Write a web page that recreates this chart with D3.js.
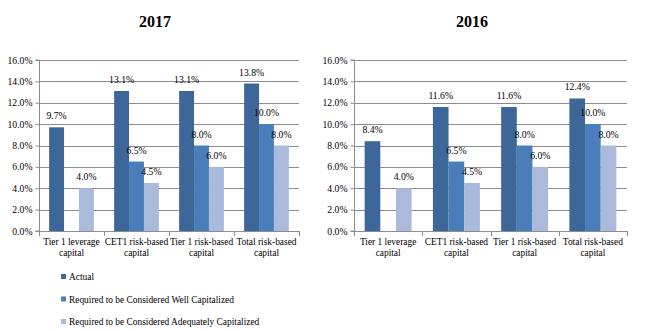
<!DOCTYPE html>
<html>
<head>
<meta charset="utf-8">
<script src="https://cdn.jsdelivr.net/npm/d3@7"></script>
<style>
  body { margin: 0; background: #fff; }
  svg text { font-family: "Liberation Serif", "Times New Roman", serif; fill: #000; }
</style>
</head>
<body>
<script>
// chart data
var categories = ["Tier 1 leverage capital", "CET1 risk-based capital", "Tier 1 risk-based capital", "Total risk-based capital"];
var catLines = [["Tier 1 leverage", "capital"], ["CET1 risk-based", "capital"], ["Tier 1 risk-based", "capital"], ["Total risk-based", "capital"]];
var seriesNames = ["Actual", "Required to be Considered Well Capitalized", "Required to be Considered Adequately Capitalized"];
var colors = ["#3D6699", "#4A7EBB", "#A9BADA"];
var yTicks = [0, 2, 4, 6, 8, 10, 12, 14, 16];

var actual2017 = [9.7, 13.1, 13.1, 13.8];
var well2017 = [null, 6.5, 8.0, 10.0];
var adequate2017 = [4.0, 4.5, 6.0, 8.0];

var actual2016 = [8.4, 11.6, 11.6, 12.4];
var well2016 = [null, 6.5, 8.0, 10.0];
var adequate2016 = [4.0, 4.5, 6.0, 8.0];

var width = 657, height = 331;
var serif = "Liberation Serif";

var svg = d3.select("body")
  .append("svg")
  .attr("width", width)
  .attr("height", height);

function drawChart(title, series, x0, x1, titleX) {
  var top = 60, bottom = 231;
  var g = svg.append("g");

  g.append("text")
    .attr("x", titleX).attr("y", 27)
    .attr("text-anchor", "middle")
    .attr("font-family", serif)
    .style("font-size", "16px")
    .style("font-weight", "bold")
    .text(title);

  var y = d3.scaleLinear().domain([0, 16]).range([bottom, top]);
  var x = d3.scaleBand().domain(categories).range([x0, x1]).paddingInner(0).paddingOuter(0);
  var xs = d3.scaleBand().domain([0, 1, 2]).range([0, x.bandwidth()]).paddingInner(0).paddingOuter(0.68);

  // gridlines
  g.selectAll("line.grid")
    .data(yTicks.slice(1))
    .enter().append("line")
    .attr("x1", x0).attr("x2", x1)
    .attr("y1", function(d) { return Math.round(y(d)) + 0.5; })
    .attr("y2", function(d) { return Math.round(y(d)) + 0.5; })
    .attr("stroke", "#8c8c8c").attr("stroke-width", 1);

  // bars
  series.forEach(function(vals, si) {
    var pts = categories.map(function(c, i) { return { c: c, v: vals[i] }; }).filter(function(d) { return d.v != null; });
    g.selectAll("rect.s" + si)
      .data(pts)
      .enter().append("rect")
      .attr("x", function(d) { return x(d.c) + xs(si); })
      .attr("width", xs.bandwidth())
      .attr("y", function(d) { return y(d.v); })
      .attr("height", function(d) { return bottom - y(d.v); })
      .attr("fill", colors[si]);

    g.selectAll("text.s" + si)
      .data(pts)
      .enter().append("text")
      .attr("x", function(d) { return x(d.c) + xs(si) + xs.bandwidth() / 2; })
      .attr("y", function(d) { return y(d.v) - 8; })
      .attr("text-anchor", "middle")
      .attr("font-family", serif)
      .style("font-size", "9.7px")
      .text(function(d) { return d.v.toFixed(1) + "%"; });
  });

  // y axis
  var yAxis = d3.axisLeft(y).tickValues(yTicks).tickSize(4).tickFormat(function(d) { return d.toFixed(1) + "%"; });
  var ya = g.append("g").attr("transform", "translate(" + (x0 + 0.5) + ",0)").call(yAxis);
  ya.attr("font-family", serif);
  ya.select(".domain").attr("stroke", "#8c8c8c").attr("d", "M-4," + top + "H0V" + bottom + "H-4");
  ya.selectAll(".tick line").attr("stroke", "#8c8c8c");
  ya.selectAll(".tick text").attr("x", -7).style("font-size", "9.7px");

  // x axis
  g.append("line")
    .attr("x1", x0).attr("x2", x1)
    .attr("y1", bottom + 0.5).attr("y2", bottom + 0.5)
    .attr("stroke", "#8c8c8c");
  var bounds = categories.map(function(c) { return x(c); }).concat([x1]);
  g.selectAll("line.xt")
    .data(bounds)
    .enter().append("line")
    .attr("x1", function(d) { return Math.round(d) + 0.5; })
    .attr("x2", function(d) { return Math.round(d) + 0.5; })
    .attr("y1", bottom).attr("y2", bottom + 5)
    .attr("stroke", "#8c8c8c");

  g.selectAll("text.xl")
    .data(categories)
    .enter().append("text")
    .attr("text-anchor", "middle")
    .attr("font-family", serif)
    .style("font-size", "9.4px")
    .each(function(c, i) {
      var t = d3.select(this);
      catLines[i].forEach(function(line, li) {
        t.append("tspan")
          .attr("x", x(c) + x.bandwidth() / 2)
          .attr("y", bottom + 14 + li * 10.5)
          .text(line);
      });
    });
}

drawChart("2017", [actual2017, well2017, adequate2017], 39, 299, 155);
drawChart("2016", [actual2016, well2016, adequate2016], 354, 627, 472);

// legend
var legend = svg.append("g");
seriesNames.forEach(function(name, i) {
  var ly = 277 + i * 22.5;
  legend.append("rect")
    .attr("x", 61).attr("y", ly - 3)
    .attr("width", 5).attr("height", 5)
    .attr("fill", colors[i]);
  legend.append("text")
    .attr("x", 69).attr("y", ly + 3)
    .attr("font-family", serif)
    .style("font-size", "9.4px")
    .text(name);
});
</script>
</body>
</html>
